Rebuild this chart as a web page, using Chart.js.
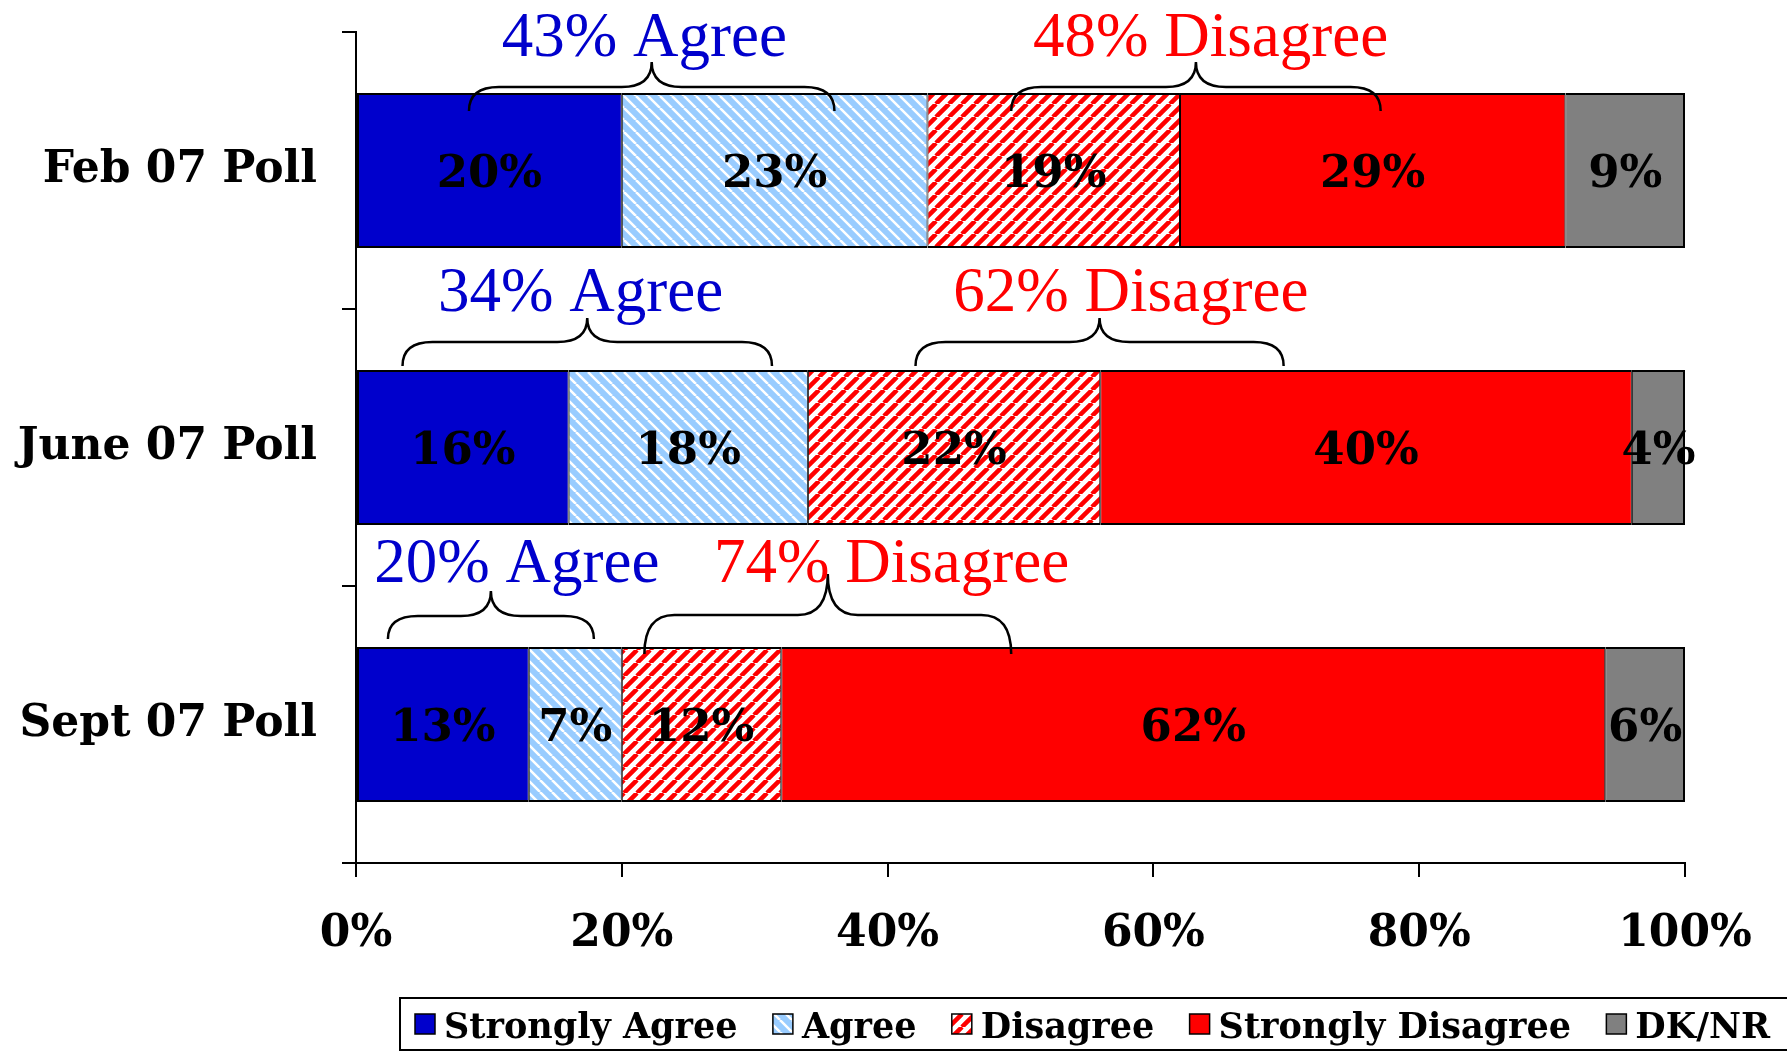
<!DOCTYPE html>
<html>
<head>
<meta charset="utf-8">
<script src="https://cdn.jsdelivr.net/npm/chart.js@4.4.1/dist/chart.umd.min.js"></script>
<style>
  html, body { margin: 0; padding: 0; background: #fff; }
  #wrap { width: 1787px; height: 1051px; position: relative; }
</style>
</head>
<body>
<div id="wrap"><canvas id="poll"></canvas></div>
<script>
// Poll results, percent of respondents
const polls = ['Feb 07 Poll', 'June 07 Poll', 'Sept 07 Poll'];
const stronglyAgree = [20, 16, 13];
const agree = [23, 18, 7];
const disagree = [19, 22, 12];
const stronglyDisagree = [29, 40, 62];
const dkNr = [9, 4, 6];
const xTicks = [0, 20, 40, 60, 80, 100];

const SERIF_BOLD = "'DejaVu Serif', serif";
const SERIF = "'Liberation Serif', 'Times New Roman', serif";

// diagonal stripe fill for the two "soft" answers
function hatch(bg, fg, width, dir, p) {
    const c = document.createElement('canvas');
    c.width = p; c.height = p;
    const g = c.getContext('2d');
    g.fillStyle = bg;
    g.fillRect(0, 0, p, p);
    g.strokeStyle = fg;
    g.lineWidth = width;
    g.beginPath();
    for (let k = -1; k <= 1; k++) {
        if (dir === '/') { g.moveTo(k * p, p); g.lineTo(k * p + p, 0); }
        else { g.moveTo(k * p, 0); g.lineTo(k * p + p, p); }
    }
    g.stroke();
    return g.createPattern(c, 'repeat');
}

const agreeTotal = stronglyAgree.map((v, i) => v + agree[i]);
const disagreeTotal = stronglyDisagree.map((v, i) => v + disagree[i]);

// brace spans in % of the axis, heights in px above the bar top
const braceMarks = [
    { row: 0, kind: 'agree',    from: 8.5,  to: 36.0, textAt: 21.7, text: 37, peak: 31, flat: 6,  foot: -18 },
    { row: 0, kind: 'disagree', from: 49.3, to: 77.1, textAt: 64.3, text: 37, peak: 31, flat: 6,  foot: -18 },
    { row: 1, kind: 'agree',    from: 3.5,  to: 31.3, textAt: 16.9, text: 59, peak: 52, flat: 28, foot: 4 },
    { row: 1, kind: 'disagree', from: 42.1, to: 69.8, textAt: 58.3, text: 59, peak: 52, flat: 28, foot: 4 },
    { row: 2, kind: 'agree',    from: 2.4,  to: 17.9, textAt: 12.1, text: 65, peak: 56, flat: 31, foot: 8 },
    { row: 2, kind: 'disagree', from: 21.7, to: 49.3, textAt: 40.3, text: 65, peak: 73, flat: 32, foot: -7 }
];

const segmentLabels = {
    id: 'segmentLabels',
    afterDatasetsDraw(chart) {
        const ctx = chart.ctx;
        ctx.save();
        ctx.font = 'bold 45px ' + SERIF_BOLD;
        ctx.fillStyle = '#000';
        ctx.textAlign = 'center';
        ctx.textBaseline = 'middle';
        chart.data.datasets.forEach((ds, i) => {
            chart.getDatasetMeta(i).data.forEach((bar, j) => {
                ctx.fillText(ds.data[j] + '%', (bar.x + bar.base) / 2, bar.y + 5);
            });
        });
        ctx.restore();
    }
};

const braces = {
    id: 'braces',
    afterDatasetsDraw(chart) {
        const ctx = chart.ctx;
        const xs = chart.scales.x;
        const bars = chart.getDatasetMeta(0).data;
        ctx.save();
        braceMarks.forEach(m => {
            const bar = bars[m.row];
            const top = bar.y - bar.height / 2;
            const x0 = xs.getPixelForValue(m.from);
            const x1 = xs.getPixelForValue(m.to);
            const xm = (x0 + x1) / 2;
            const yFoot = top - m.foot, yFlat = top - m.flat, yPeak = top - m.peak;
            const r = Math.min(30, (x1 - x0) / 5);
            ctx.beginPath();
            ctx.moveTo(x0, yFoot);
            ctx.quadraticCurveTo(x0, yFlat, x0 + r, yFlat);
            ctx.lineTo(xm - r, yFlat);
            ctx.quadraticCurveTo(xm, yFlat, xm, yPeak);
            ctx.quadraticCurveTo(xm, yFlat, xm + r, yFlat);
            ctx.lineTo(x1 - r, yFlat);
            ctx.quadraticCurveTo(x1, yFlat, x1, yFoot);
            ctx.strokeStyle = '#000';
            ctx.lineWidth = 2.5;
            ctx.stroke();

            const agreeSide = m.kind === 'agree';
            const label = agreeSide
                ? agreeTotal[m.row] + '% Agree'
                : disagreeTotal[m.row] + '% Disagree';
            ctx.font = '63px ' + SERIF;
            ctx.fillStyle = agreeSide ? '#0000CC' : '#FF0000';
            ctx.textAlign = 'center';
            ctx.textBaseline = 'alphabetic';
            ctx.fillText(label, xs.getPixelForValue(m.textAt), top - m.text);
        });
        ctx.restore();
    }
};

// boxed legend along the bottom edge, items spread to end near the right border
const legendBox = {
    id: 'legendBox',
    afterDraw(chart) {
        const ctx = chart.ctx;
        const items = chart.data.datasets;
        const start = 415, end = 1770, box = 20, toText = 9;
        ctx.save();
        ctx.strokeStyle = '#000';
        ctx.lineWidth = 2;
        ctx.strokeRect(400, 998, 1400, 52);
        ctx.font = 'bold 35px ' + SERIF_BOLD;
        ctx.textBaseline = 'alphabetic';
        const widths = items.map(ds => ctx.measureText(ds.label).width);
        const used = widths.reduce((a, b) => a + b, 0) + items.length * (box + toText);
        const gap = (end - start - used) / (items.length - 1);
        let x = start;
        items.forEach((ds, i) => {
            ctx.fillStyle = ds.backgroundColor;
            ctx.fillRect(x, 1014, box, box);
            ctx.lineWidth = 1.5;
            ctx.strokeRect(x, 1014, box, box);
            x += box + toText;
            ctx.fillStyle = '#000';
            ctx.fillText(ds.label, x, 1038);
            x += widths[i] + gap;
        });
        ctx.restore();
    }
};

const edge = (first, last) => ({ top: 2, bottom: 2, left: first ? 2 : 1, right: last ? 2 : 1 });

const series = [
    { label: 'Strongly Agree', data: stronglyAgree, backgroundColor: '#0000CC', borderWidth: edge(true, false) },
    { label: 'Agree', data: agree, backgroundColor: hatch('#99CCFF', '#ffffff', 2.5, '\\', 12), borderWidth: edge(false, false) },
    { label: 'Disagree', data: disagree, backgroundColor: hatch('#ffffff', '#FF0000', 4.5, '/', 13), borderWidth: edge(false, false) },
    { label: 'Strongly Disagree', data: stronglyDisagree, backgroundColor: '#FF0000', borderWidth: edge(false, false) },
    { label: 'DK/NR', data: dkNr, backgroundColor: '#808080', borderWidth: edge(false, true) }
];

new Chart(document.getElementById('poll'), {
    type: 'bar',
    data: {
        labels: polls,
        datasets: series.map(s => Object.assign({
            borderColor: '#000',
            borderSkipped: false,
            barPercentage: 0.56,
            categoryPercentage: 1
        }, s))
    },
    options: {
        indexAxis: 'y',
        responsive: true, maintainAspectRatio: false,
        animation: false,
        layout: { padding: { top: 32, right: 102, bottom: 78, left: 0 } },
        plugins: { legend: { display: false }, tooltip: { enabled: false } },
        scales: {
            x: {
                stacked: true, min: 0, max: 100,
                afterBuildTicks: axis => { axis.ticks = xTicks.map(v => ({ value: v })); },
                ticks: {
                    callback: v => v + '%',
                    font: { family: SERIF_BOLD, size: 44, weight: 'bold' },
                    color: '#000', padding: 31, maxRotation: 0, autoSkip: false
                },
                grid: { drawOnChartArea: false, drawTicks: true, tickLength: 14, color: '#000', lineWidth: 2 },
                border: { display: true, color: '#000', width: 2 },
                afterFit: s => { s.height = 110; }
            },
            y: {
                stacked: true,
                ticks: {
                    font: { family: SERIF_BOLD, size: 44, weight: 'bold' },
                    color: '#000', padding: 25
                },
                grid: { drawOnChartArea: false, drawTicks: true, tickLength: 14, color: '#000', lineWidth: 2, offset: true },
                border: { display: true, color: '#000', width: 2 },
                afterFit: s => { s.width = 356; s.paddingTop = 0; s.paddingBottom = 0; }
            }
        }
    },
    plugins: [segmentLabels, braces, legendBox]
});
</script>
</body>
</html>
